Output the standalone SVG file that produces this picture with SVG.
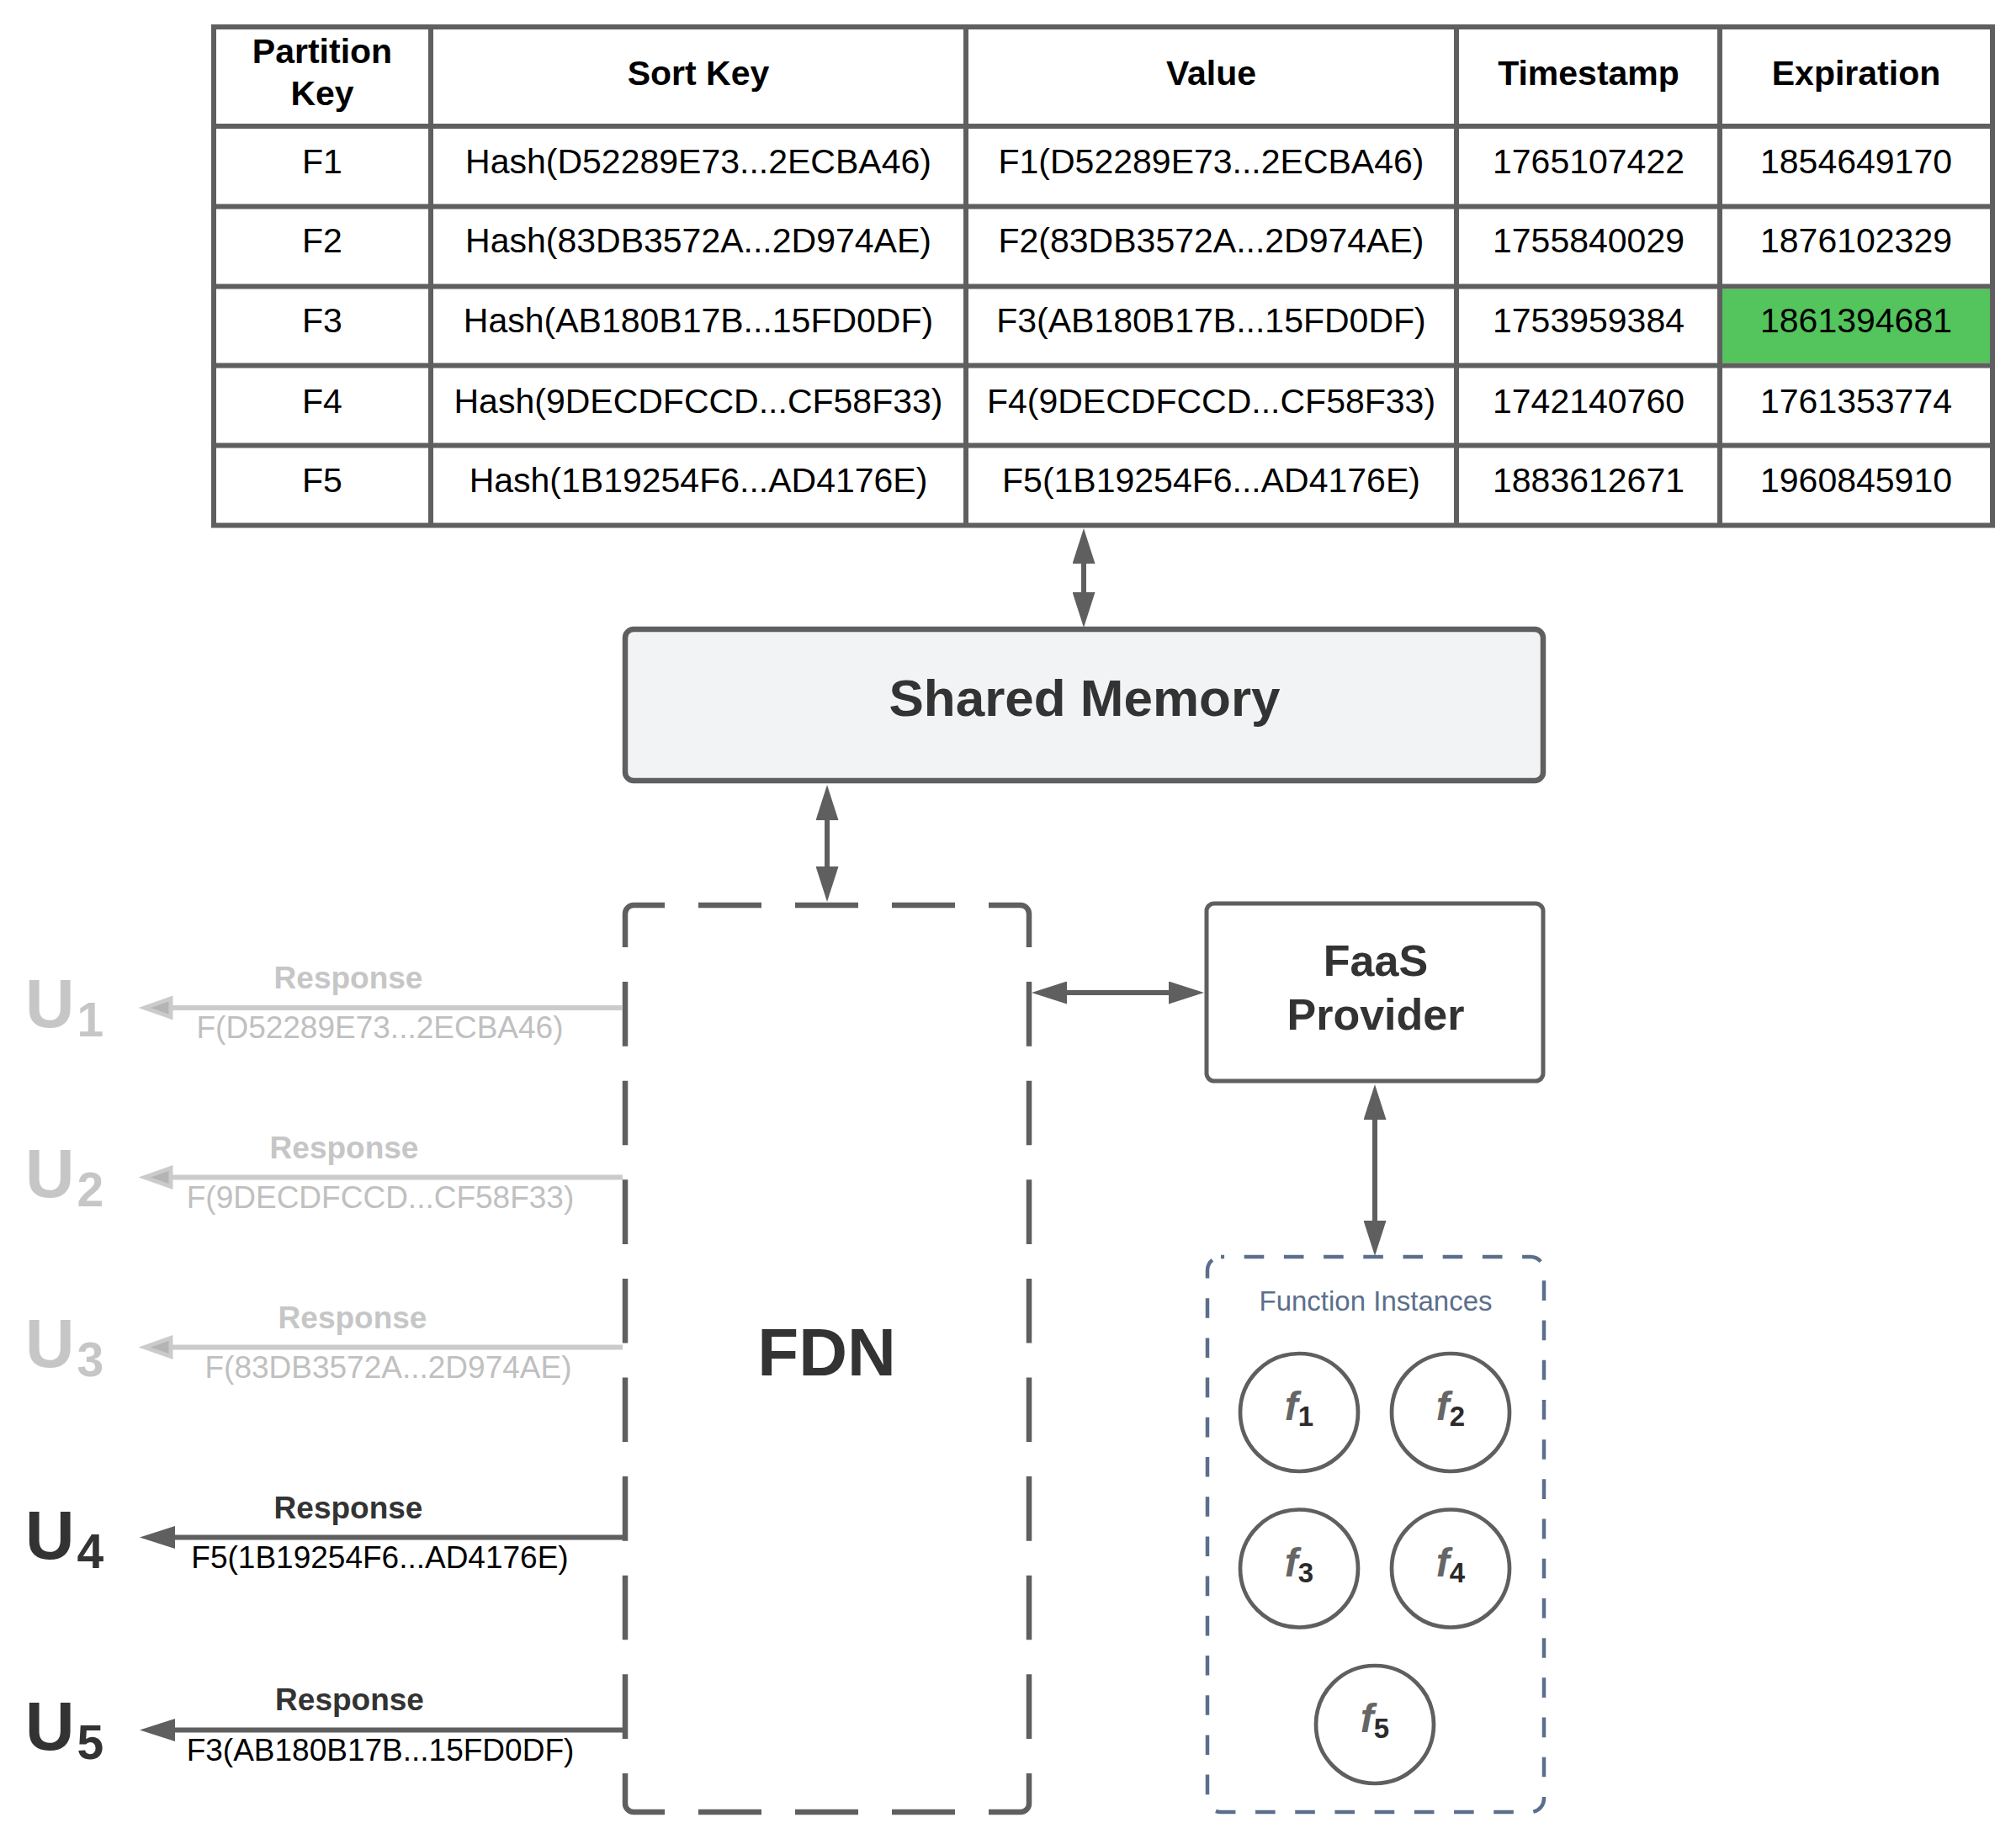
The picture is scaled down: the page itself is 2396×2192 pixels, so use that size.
<svg xmlns="http://www.w3.org/2000/svg" width="2396" height="2192" viewBox="0 0 2396 2192">
<style>
text{font-family:"Liberation Sans",Arial,Helvetica,sans-serif}
.th{font-size:41px;font-weight:bold;fill:#000;text-anchor:middle}
.td{font-size:41px;fill:#000;text-anchor:middle}
.tl{stroke:#5f5f5f;stroke-width:6;fill:none}
.box{stroke:#5f5f5f;fill:#fff}
.conn{stroke:#5f5f5f;stroke-width:6;fill:none}
.lconn{stroke:#cbcbcb;stroke-width:6;fill:none}
.resp{font-size:37px;font-weight:bold;text-anchor:middle}
.val{font-size:37px;text-anchor:middle}
.u{font-size:81px;font-weight:bold}
.light{fill:#c6c6c6}
.dark{fill:#333}
.fn{stroke:#5f5f5f;stroke-width:4.7;fill:#fff}
.fl{font-size:48px;font-weight:bold;font-style:italic;fill:#666;text-anchor:middle}
.fs{font-size:33px;font-weight:bold;font-style:normal;fill:#2b2b2b}
.fdn{stroke:#5f5f5f;stroke-width:6.5;fill:none}
</style>
<defs>
<marker id="ah" markerUnits="userSpaceOnUse" viewBox="0 0 42 27" markerWidth="42" markerHeight="27" refX="0" refY="13.5" orient="auto-start-reverse">
<path d="M0,0 L42,13.5 L0,27 z" fill="#5f5f5f"/>
</marker>
<marker id="ahl" markerUnits="userSpaceOnUse" viewBox="-4 -4 50 35" markerWidth="50" markerHeight="35" refX="0" refY="13.5" orient="auto-start-reverse">
<path d="M2,2.5 L33,13.5 L2,24.5 z" fill="#b4b4b4" stroke="#cbcbcb" stroke-width="5"/>
</marker>
</defs>
<rect width="2396" height="2192" fill="#fff"/>

<g id="table">
<rect x="2047" y="343.5" width="318" height="88" fill="#54c45c"/>
<rect class="tl" x="254" y="32" width="2114" height="592.5"/>
<path class="tl" d="M512,32V624.5 M1148,32V624.5 M1731,32V624.5 M2044,32V624.5 M254,150H2368 M254,245.5H2368 M254,340.5H2368 M254,434.5H2368 M254,529.5H2368"/>
<text class="th" x="383" y="75">Partition</text>
<text class="th" x="383" y="125">Key</text>
<text class="th" x="830" y="101">Sort Key</text>
<text class="th" x="1439.5" y="101">Value</text>
<text class="th" x="1888" y="101">Timestamp</text>
<text class="th" x="2206" y="101">Expiration</text>
<text class="td" x="383" y="206">F1</text>
<text class="td" x="830" y="206">Hash(D52289E73...2ECBA46)</text>
<text class="td" x="1439.5" y="206">F1(D52289E73...2ECBA46)</text>
<text class="td" x="1888" y="206">1765107422</text>
<text class="td" x="2206" y="206">1854649170</text>
<text class="td" x="383" y="300">F2</text>
<text class="td" x="830" y="300">Hash(83DB3572A...2D974AE)</text>
<text class="td" x="1439.5" y="300">F2(83DB3572A...2D974AE)</text>
<text class="td" x="1888" y="300">1755840029</text>
<text class="td" x="2206" y="300">1876102329</text>
<text class="td" x="383" y="395">F3</text>
<text class="td" x="830" y="395">Hash(AB180B17B...15FD0DF)</text>
<text class="td" x="1439.5" y="395">F3(AB180B17B...15FD0DF)</text>
<text class="td" x="1888" y="395">1753959384</text>
<text class="td" x="2206" y="395">1861394681</text>
<text class="td" x="383" y="491">F4</text>
<text class="td" x="830" y="491">Hash(9DECDFCCD...CF58F33)</text>
<text class="td" x="1439.5" y="491">F4(9DECDFCCD...CF58F33)</text>
<text class="td" x="1888" y="491">1742140760</text>
<text class="td" x="2206" y="491">1761353774</text>
<text class="td" x="383" y="585">F5</text>
<text class="td" x="830" y="585">Hash(1B19254F6...AD4176E)</text>
<text class="td" x="1439.5" y="585">F5(1B19254F6...AD4176E)</text>
<text class="td" x="1888" y="585">1883612671</text>
<text class="td" x="2206" y="585">1960845910</text>
</g>

<g id="shared-memory">
<rect x="743" y="748" width="1091" height="180" rx="10" fill="#f2f3f5" stroke="#5f5f5f" stroke-width="6.5"/>
<text x="1289" y="851" font-size="62" font-weight="bold" fill="#333" text-anchor="middle">Shared Memory</text>
</g>

<g id="fdn">
<path class="fdn" d="M753,1076 A10,10 0 0 0 743,1086 V2144 A10,10 0 0 0 753,2154" stroke-dasharray="76.6 41" stroke-dashoffset="20.9"/>
<path class="fdn" d="M1213,1076 A10,10 0 0 1 1223,1086 V2144 A10,10 0 0 1 1213,2154" stroke-dasharray="76.6 41" stroke-dashoffset="20.9"/>
<path class="fdn" d="M753,1076 H1213" stroke-dasharray="75 40" stroke-dashoffset="38"/>
<path class="fdn" d="M753,2154 H1213" stroke-dasharray="75 40" stroke-dashoffset="38"/>
<text x="982.5" y="1635" font-size="80" font-weight="bold" fill="#333" text-anchor="middle">FDN</text>
</g>

<g id="faas-provider">
<rect class="box" x="1434" y="1074" width="400" height="211" rx="9" stroke-width="5"/>
<text x="1635" y="1160" font-size="52" font-weight="bold" fill="#333" text-anchor="middle">FaaS</text>
<text x="1635" y="1224" font-size="52" font-weight="bold" fill="#333" text-anchor="middle">Provider</text>
</g>

<g id="function-instances">
<rect x="1435" y="1494" width="400" height="660" rx="16" fill="none" stroke="#5b6f8c" stroke-width="4.5" stroke-dasharray="23.6 23.6" stroke-dashoffset="19.5"/>
<text x="1635" y="1558" font-size="33" fill="#5b6f8c" text-anchor="middle">Function Instances</text>
</g>

<g id="f1"><circle class="fn" cx="1544" cy="1679" r="70"/><text class="fl" x="1544" y="1688">f<tspan class="fs" dy="7">1</tspan></text></g>
<g id="f2"><circle class="fn" cx="1724" cy="1679" r="70"/><text class="fl" x="1724" y="1688">f<tspan class="fs" dy="7">2</tspan></text></g>
<g id="f3"><circle class="fn" cx="1544" cy="1864.5" r="70"/><text class="fl" x="1544" y="1873.5">f<tspan class="fs" dy="7">3</tspan></text></g>
<g id="f4"><circle class="fn" cx="1724" cy="1864.5" r="70"/><text class="fl" x="1724" y="1873.5">f<tspan class="fs" dy="7">4</tspan></text></g>
<g id="f5"><circle class="fn" cx="1634" cy="2050" r="70"/><text class="fl" x="1634" y="2059">f<tspan class="fs" dy="7">5</tspan></text></g>

<g id="u1"><text class="u light" x="30" y="1221">U<tspan font-size="57" dx="3" dy="11">1</tspan></text></g>
<g id="u2"><text class="u light" x="30" y="1422.5">U<tspan font-size="57" dx="3" dy="11">2</tspan></text></g>
<g id="u3"><text class="u light" x="30" y="1624.5">U<tspan font-size="57" dx="3" dy="11">3</tspan></text></g>
<g id="u4"><text class="u dark" x="30" y="1852.5">U<tspan font-size="57" dx="3" dy="11">4</tspan></text></g>
<g id="u5"><text class="u dark" x="30" y="2080">U<tspan font-size="57" dx="3" dy="11">5</tspan></text></g>

<g id="connectors">
<path class="conn" d="M1288,670 V704" marker-start="url(#ah)" marker-end="url(#ah)"/>
<path class="conn" d="M983,975 V1030" marker-start="url(#ah)" marker-end="url(#ah)"/>
<path class="conn" d="M1268,1180 H1389" marker-start="url(#ah)" marker-end="url(#ah)"/>
<path class="conn" d="M1634,1331 V1451" marker-start="url(#ah)" marker-end="url(#ah)"/>
<path class="lconn" d="M740,1198 H205" marker-end="url(#ahl)"/>
<path class="lconn" d="M740,1399.5 H205" marker-end="url(#ahl)"/>
<path class="lconn" d="M740,1601.5 H205" marker-end="url(#ahl)"/>
<path class="conn" d="M740,1827.5 H208" marker-end="url(#ah)"/>
<path class="conn" d="M740,2056.5 H208" marker-end="url(#ah)"/>
<text class="resp light" x="414" y="1175">Response</text>
<text class="val" fill="#c0c0c0" x="451.5" y="1234">F(D52289E73...2ECBA46)</text>
<text class="resp light" x="409" y="1376.5">Response</text>
<text class="val" fill="#c0c0c0" x="452" y="1435.5">F(9DECDFCCD...CF58F33)</text>
<text class="resp light" x="419" y="1579">Response</text>
<text class="val" fill="#c0c0c0" x="461.5" y="1638">F(83DB3572A...2D974AE)</text>
<text class="resp dark" x="414" y="1805">Response</text>
<text class="val" fill="#000" x="451.5" y="1864">F5(1B19254F6...AD4176E)</text>
<text class="resp dark" x="415.5" y="2033">Response</text>
<text class="val" fill="#000" x="452" y="2093">F3(AB180B17B...15FD0DF)</text>
</g>
</svg>
